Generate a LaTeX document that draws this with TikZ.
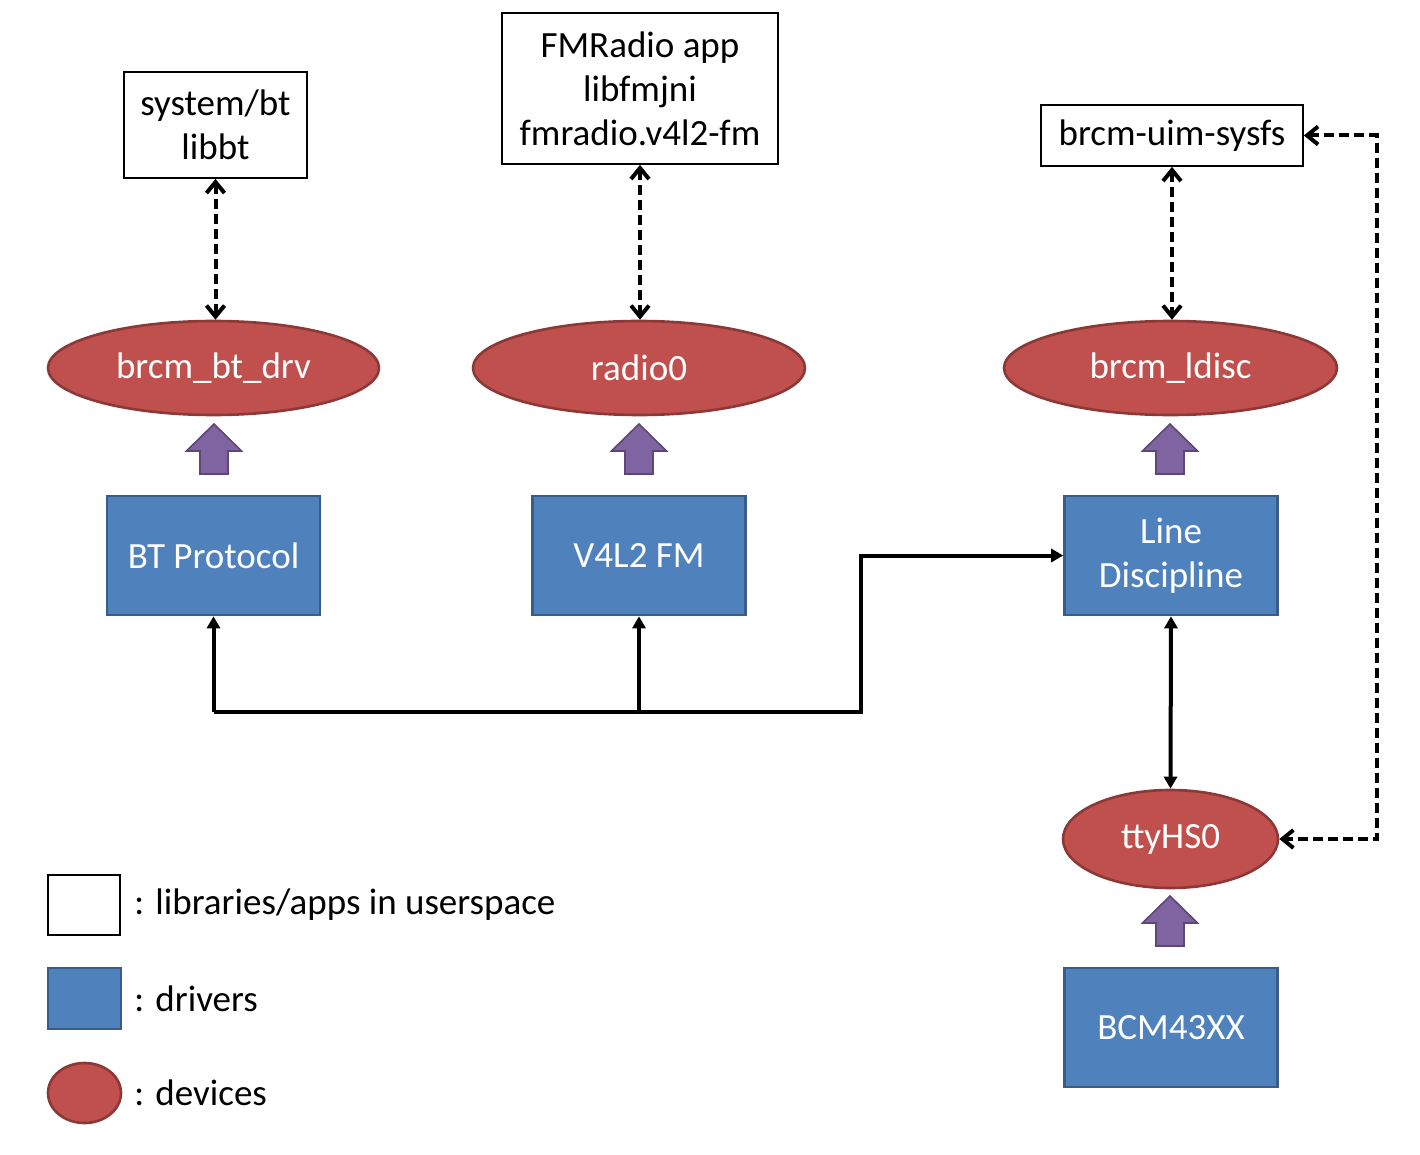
\documentclass[tikz,border=0pt]{standalone}
\usepackage{fontspec}
\setmainfont{Carlito}
\usetikzlibrary{shapes.geometric,arrows.meta}
\definecolor{bfill}{HTML}{4F81BD}
\definecolor{bline}{HTML}{385D8A}
\definecolor{rfill}{HTML}{C0504D}
\definecolor{rline}{HTML}{8C3836}
\definecolor{pfill}{HTML}{8064A2}
\definecolor{pline}{HTML}{5C4776}
\newcommand\purpup[1]{\filldraw[purp] (#1) ++(-14,0) -- ++(0,-23) -- ++(-13.5,0) -- ++(27.5,-27) -- ++(27.5,27) -- ++(-13.5,0) -- ++(0,23) -- cycle;}
\begin{document}
\begin{tikzpicture}[x=0.5pt,y=-0.5pt,
  every node/.style={font=\fontsize{18.5}{22}\selectfont, inner sep=0pt, align=center},
  ubox/.style={draw=black, fill=white, line width=0.9pt, rectangle},
  dbox/.style={draw=bline, fill=bfill, line width=1.3pt, rectangle, text=white, minimum width=106.5pt, minimum height=59.5pt},
  dev/.style={draw=rline, fill=rfill, line width=1.3pt, ellipse, text=white},
  purp/.style={draw=pline, fill=pfill, line width=0.8pt},
  dasharrow/.style={line width=2pt, dash pattern=on 5pt off 2.5pt, {Straight Barb[length=5.5pt,width=9pt]}-{Straight Barb[length=5.5pt,width=9pt]}},
  solidline/.style={line width=2pt},
]
\useasboundingbox (0,0) rectangle (1420,1155);

% userspace boxes
\node[ubox, minimum width=91.5pt, minimum height=53pt] (sys) at (215.5,125) {system/bt\\libbt};
\node[ubox, minimum width=138pt, minimum height=75.5pt] (fm) at (640,88.5) {FMRadio app\\libfmjni\\fmradio.v4l2-fm};
\node[ubox, minimum width=131pt, minimum height=30.5pt] (uim) at (1172,135.5) {brcm-uim-sysfs};

% devices
\node[dev, minimum width=165.5pt, minimum height=47pt] (btdrv) at (213.5,368) {brcm\_bt\_drv};
\node[dev, minimum width=166pt, minimum height=47pt] (radio) at (639,368) {radio0};
\node[dev, minimum width=166.5pt, minimum height=47pt] (ldisc) at (1170.5,368) {brcm\_ldisc};
\node[dev, minimum width=107.5pt, minimum height=49pt] (tty) at (1170.5,839) {ttyHS0};

% drivers
\node[dbox] (btp) at (213.5,555.5) {BT Protocol};
\node[dbox] (v4l) at (639,555.5) {V4L2 FM};
\node[dbox] (ld) at (1171,555.5) {Line\\Discipline};
\node[dbox] (bcm) at (1171,1027.5) {BCM43XX};

% purple arrows
\coordinate (pa1) at (214,474);
\coordinate (pa2) at (639,474);
\coordinate (pa3) at (1170,474);
\coordinate (pa4) at (1170,946);
\purpup{pa1}
\purpup{pa2}
\purpup{pa3}
\purpup{pa4}

% dashed connectors
\draw[dasharrow] (sys.south) -- (btdrv.north -| sys.south);
\draw[dasharrow] (fm.south) -- (radio.north -| fm.south);
\draw[dasharrow] (uim.south) -- (ldisc.north -| uim.south);
\coordinate (rc) at (1377,135.5);
\draw[dasharrow] (uim.east) -- (rc) |- (tty.east);

% solid bus
\coordinate (j1) at (213.5,712);
\coordinate (j2) at (639,712);
\coordinate (j3) at (861,712);
\draw[solidline, -{Triangle[length=6pt,width=6.5pt]}] (j1) -- (btp.south);
\draw[solidline, -{Triangle[length=6pt,width=6.5pt]}] (j2) -- (v4l.south);
\draw[solidline, -{Triangle[length=6pt,width=6.5pt]}] (j1) -- (j3) |- (ld.west);
\draw[solidline, {Triangle[length=6pt,width=6.5pt]}-{Triangle[length=6pt,width=6.5pt]}] (ld.south) -- (tty.north);

% legend
\node[ubox, minimum width=36pt, minimum height=30pt] (lw) at (84,905) {};
\node[dbox, minimum width=36.5pt, minimum height=30.5pt] (lb) at (84.5,998.5) {};
\node[dev, minimum width=36.5pt, minimum height=30pt] (lr) at (84.5,1093) {};
\node[anchor=west] (tw) at (134,905) {: libraries/apps in userspace};
\node[anchor=west] (tb) at (134,999) {: drivers};
\node[anchor=west] (tr) at (134,1093) {: devices};
\end{tikzpicture}
\end{document}
